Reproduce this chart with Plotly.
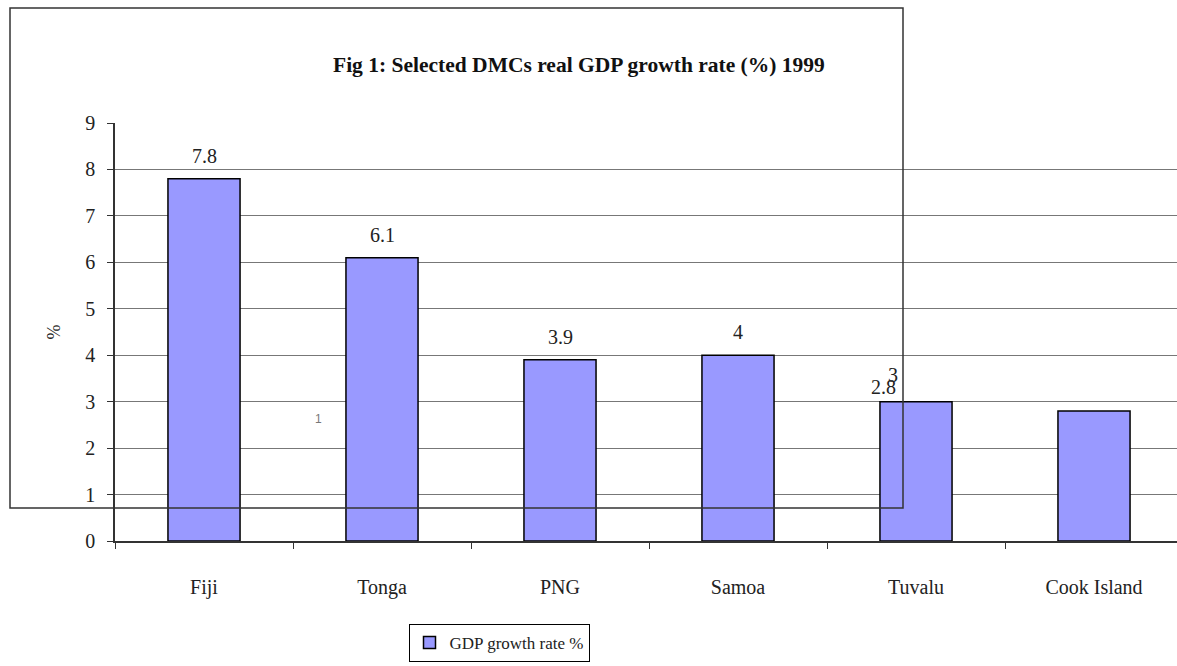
import plotly.graph_objects as go

categories = ["Fiji", "Tonga", "PNG", "Samoa", "Tuvalu", "Cook Island"]
growth = [7.8, 6.1, 3.9, 4, 3, 2.8]
series_name = "GDP growth rate %"
title_text = "Fig 1: Selected DMCs real GDP growth rate (%) 1999"
y_ticks = [0, 1, 2, 3, 4, 5, 6, 7, 8, 9]

W, H = 1177, 666
L, R, T, B = 115, 0, 123, 125
pw = W - L - R
ph = H - T - B

def px_x(p):
    return (p - L) / pw

def px_y(p):
    return (H - B - p) / ph

FONT = "Liberation Serif"

fig = go.Figure()
fig.add_trace(go.Bar(
    x=categories, y=growth, name=series_name,
    marker=dict(color="#9999FF", line=dict(color="#000000", width=1.5)),
    width=0.405, showlegend=True,
))

# data labels (as rendered in the original, incl. displaced Cook Island label)
label_shift = {"Tuvalu": (-23, 27), "Cook Island": (-211, 24)}
for c, v in zip(categories, growth):
    xs, ys = label_shift.get(c, (0, 23))
    fig.add_annotation(x=c, y=v, text=f"{v:g}", showarrow=False,
                       xshift=xs, yshift=ys, yanchor="middle",
                       font=dict(family=FONT, size=20, color="#222222"))

fig.add_annotation(xref="paper", yref="paper", x=px_x(579), y=px_y(51),
                   text="<b>" + title_text + "</b>", showarrow=False,
                   font=dict(family=FONT, size=21.5, color="#111111"))
fig.add_annotation(xref="paper", yref="paper", x=px_x(313), y=px_y(428),
                   text="1", showarrow=False,
                   font=dict(family="Liberation Sans", size=12, color="#777777"))

# stray rectangle from the source document
fig.add_shape(type="rect", xref="paper", yref="paper",
              x0=px_x(10), x1=px_x(903), y0=px_y(508), y1=px_y(8),
              line=dict(color="#333333", width=1.5), fillcolor="rgba(0,0,0,0)",
              layer="above")

fig.update_layout(
    width=W, height=H,
    margin=dict(l=L, r=R, t=T, b=B, pad=0),
    plot_bgcolor="white", paper_bgcolor="white",
    font=dict(family=FONT, size=20, color="#222222"),
    bargap=0.595,
    legend=dict(orientation="h", x=px_x(499), y=px_y(643),
                xanchor="center", yanchor="middle",
                bordercolor="#000000", borderwidth=1,
                font=dict(family=FONT, size=17, color="#222222"),
                itemwidth=30, tracegroupgap=0),
    xaxis=dict(range=[-0.5, -0.5 + pw / 178], showgrid=False,
               showline=True, linecolor="#333333", linewidth=1.5,
               ticks="outside", ticklen=6, tickcolor="#333333",
               tickson="boundaries", tickfont=dict(family=FONT, size=20),
               ticklabelstandoff=27),
    yaxis=dict(range=[0, 9], tickvals=y_ticks, showgrid=True,
               gridcolor="#777777", gridwidth=1,
               showline=True, linecolor="#333333", linewidth=1.5,
               ticks="outside", ticklen=6, tickcolor="#333333",
               tickfont=dict(family=FONT, size=20), zeroline=False,
               ticklabelstandoff=8,
               title=dict(text="%", font=dict(family=FONT, size=18), standoff=20)),
)

fig.write_html("out.html")
